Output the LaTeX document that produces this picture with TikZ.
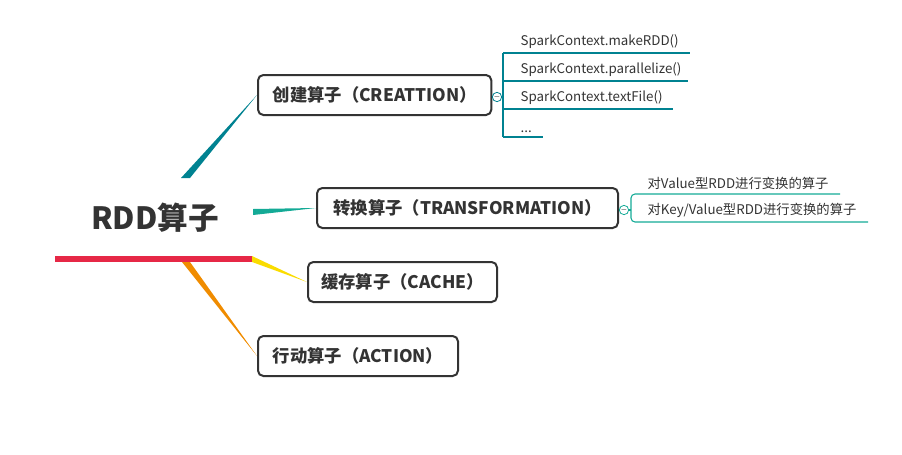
\documentclass[tikz,border=0pt]{standalone}
\usepackage{fontspec}
\setmainfont{Noto Sans CJK SC}
\definecolor{ctl}{RGB}{0,130,145}
\definecolor{cgl}{RGB}{20,170,150}
\begin{document}
\begin{tikzpicture}[x=0.75pt,y=-0.75pt,
  box/.style={draw=black!80,line width=1.5pt,rounded corners=4pt,fill=white,anchor=north west,minimum height=30pt,inner sep=0pt,font=\bfseries\fontsize{13}{15}\selectfont,text=black!80},
  leaf/.style={anchor=south west,font=\fontsize{10}{12}\selectfont,text=black!80,inner sep=1pt},
  tl/.style={draw=ctl,line width=0.8pt},
  gl/.style={draw=cgl,line width=0.8pt}]
\useasboundingbox (0,0) rectangle (902,454);
\node[font=\bfseries\fontsize{23}{27}\selectfont,text=black!80] (root) at (155,218) {RDD算子};
\draw[line width=4pt,draw={rgb,255:red,230;green,40;blue,70}] (55,259) -- (252,259);
\node[box,minimum width=175pt] (c) at (257,74) {创建算子（CREATTION）};
\node[box,minimum width=225.75pt] (t) at (316,187) {转换算子（TRANSFORMATION）};
\node[box,minimum width=141.75pt] (k) at (307,261) {缓存算子（CACHE）};
\node[box,minimum width=150pt] (a) at (257,335) {行动算子（ACTION）};
\fill[color=ctl] (181,178) -- (190,178) -- (c.west) -- cycle;
\fill[color=cgl] (253,209) -- (253,215) -- (t.west) -- cycle;
\fill[color={rgb,255:red,250;green,220;blue,0}] (252,256) -- (252,262) -- (k.west) -- cycle;
\fill[color={rgb,255:red,240;green,140;blue,0}] (182,262) -- (190,262) -- (a.west) -- cycle;
% creation children
\node[draw=ctl,circle,inner sep=0pt,minimum size=7pt,line width=0.6pt,font=\fontsize{5}{5}\selectfont] (cc) at (497,97) {$-$};
\draw[tl] (c.east) -- (cc);
\coordinate (v1) at (503,53); \coordinate (v2) at (503,137);
\draw[tl] (v1) -- (v2); \draw[tl] (cc) -- (503,97);
\foreach \y/\e/\txt in {53/690/SparkContext.makeRDD(),81/688/SparkContext.parallelize(),109/673/SparkContext.textFile()}{
  \draw[tl] (503,\y) -- (\e,\y);
  \node[leaf] at (519,\y-3) {\txt};
}
\draw[tl] (503,137) -- (543,137);
\node[leaf] at (519,134) {...};
% transformation children
\node[draw=cgl,circle,inner sep=0pt,minimum size=7pt,line width=0.6pt,font=\fontsize{5}{5}\selectfont] (tc) at (624,210) {$-$};
\draw[gl] (t.east) -- (tc);
\draw[gl,rounded corners=3pt] (840,194) -- (631,194) -- (631,222) -- (868,222);
\draw[gl] (tc) -- (631,210);
\node[leaf] at (646,191) {对Value型RDD进行变换的算子};
\node[leaf] at (646,219) {对Key/Value型RDD进行变换的算子};
\end{tikzpicture}
\end{document}
